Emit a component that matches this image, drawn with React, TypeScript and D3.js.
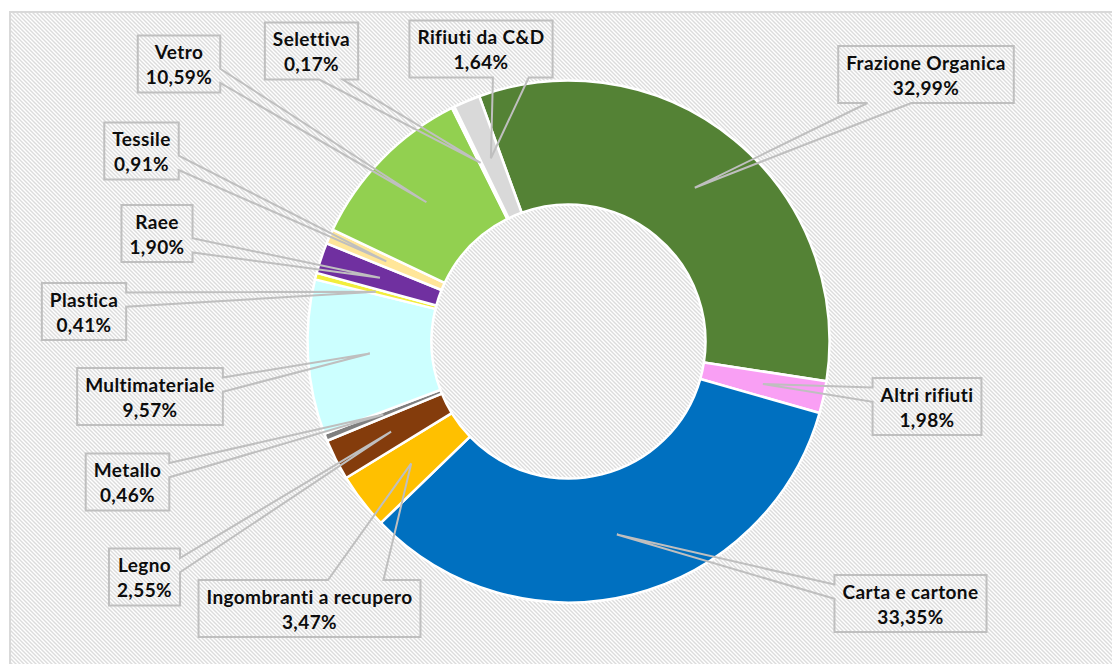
import React, { useEffect, useRef } from 'react';
import * as d3 from 'd3';

const W = 1112;
const H = 664;

// slices, clockwise from the first one
const categories = [
  'Frazione Organica', 'Altri rifiuti', 'Carta e cartone', 'Ingombranti a recupero',
  'Legno', 'Metallo', 'Multimateriale', 'Plastica', 'Raee', 'Tessile', 'Vetro',
  'Selettiva', 'Rifiuti da C&D',
];
const shares = [32.99, 1.98, 33.35, 3.47, 2.55, 0.46, 9.57, 0.41, 1.9, 0.91, 10.59, 0.17, 1.64];
const sliceColors = [
  '#548235', '#F99FF4', '#0070C0', '#FFC000', '#843C0C', '#7F7F7F', '#CCFFFF',
  '#F2EE3C', '#7030A0', '#FFE699', '#92D050', '#F2F2F2', '#D9D9D9',
];
// centre of each label box
const labelCenters: [number, number][] = [
  [926, 74.5], [927, 406.5], [910.5, 603.5], [309.5, 608.5], [144.5, 577], [127.5, 482],
  [150, 396.5], [84, 311.5], [157, 233.5], [141.5, 151], [179, 64], [311.5, 51], [481, 49],
];

const fmt = (v: number) => d3.format('.2f')(v).replace('.', ',') + '%';

// Excel style wedgeRectCallout outline
function calloutPath(l: number, t: number, w: number, h: number, ax: number, ay: number) {
  const r = l + w, b = t + h;
  const dxPos = ax - (l + w / 2);
  const dyPos = ay - (t + h / 2);
  const x1 = l + (w * (dxPos > 0 ? 7 : 2)) / 12;
  const x2 = l + (w * (dxPos > 0 ? 10 : 5)) / 12;
  const y1 = t + (h * (dyPos > 0 ? 7 : 2)) / 12;
  const y2 = t + (h * (dyPos > 0 ? 10 : 5)) / 12;
  const p = d3.path();
  if (Math.abs(dxPos * h) > Math.abs(dyPos * w)) {
    if (dxPos < 0) {
      p.moveTo(l, t); p.lineTo(r, t); p.lineTo(r, b); p.lineTo(l, b);
      p.lineTo(l, y2); p.lineTo(ax, ay); p.lineTo(l, y1);
    } else {
      p.moveTo(l, t); p.lineTo(r, t); p.lineTo(r, y1); p.lineTo(ax, ay);
      p.lineTo(r, y2); p.lineTo(r, b); p.lineTo(l, b);
    }
  } else if (dyPos < 0) {
    p.moveTo(l, t); p.lineTo(x1, t); p.lineTo(ax, ay); p.lineTo(x2, t);
    p.lineTo(r, t); p.lineTo(r, b); p.lineTo(l, b);
  } else {
    p.moveTo(l, t); p.lineTo(r, t); p.lineTo(r, b); p.lineTo(x2, b);
    p.lineTo(ax, ay); p.lineTo(x1, b); p.lineTo(l, b);
  }
  p.closePath();
  return p.toString();
}

const App: React.FC = () => {
  const svgRef = useRef<SVGSVGElement>(null);

  useEffect(() => {
    if (!svgRef.current) return;
    const svg = d3.select(svgRef.current);
    svg.selectAll('*').remove();

    // hatched chart area
    const pat = svg.append('defs').append('pattern')
      .attr('id', 'hatch')
      .attr('width', 4)
      .attr('height', 4)
      .attr('patternUnits', 'userSpaceOnUse');
    pat.append('rect').attr('width', 4).attr('height', 4).attr('fill', '#fff');
    pat.append('path')
      .attr('d', 'M-1,-1 L5,5 M-1,3 L1,5 M3,-1 L5,1')
      .attr('stroke', '#dcdcdc')
      .attr('stroke-width', 1.4);

    svg.append('rect')
      .attr('x', 10)
      .attr('y', 12)
      .attr('width', W)
      .attr('height', H)
      .attr('fill', 'url(#hatch)')
      .attr('stroke', '#d9d9d9')
      .attr('stroke-width', 2);

    const cx = 568.5, cy = 341.5;
    const rOut = 261, rIn = 137;

    const pie = d3.pie<number>()
      .sort(null)
      .value(d => d)
      .startAngle((-20 * Math.PI) / 180)
      .endAngle((340 * Math.PI) / 180);
    const arcs = pie(shares);
    const arc = d3.arc<d3.PieArcDatum<number>>().innerRadius(rIn).outerRadius(rOut);

    const g = svg.append('g').attr('transform', `translate(${cx},${cy})`);
    g.selectAll('path')
      .data(arcs)
      .join('path')
      .attr('d', d => arc(d) as string)
      .attr('fill', (d, i) => sliceColors[i])
      .attr('stroke', '#fff')
      .attr('stroke-width', 2.5)
      .attr('stroke-linejoin', 'round');

    // labels with callouts
    const boxH = 57;
    arcs.forEach((d, i) => {
      const [lx, ly] = labelCenters[i];
      const [ax0, ay0] = arc.centroid(d);
      const ax = ax0 + cx, ay = ay0 + cy;
      const top = ly - boxH / 2;

      const lg = svg.append('g');
      const path = lg.append('path');
      const t1 = lg.append('text')
        .attr('x', lx)
        .attr('y', top + 23.5)
        .text(categories[i]);
      const t2 = lg.append('text')
        .attr('x', lx)
        .attr('y', top + 48.5)
        .text(fmt(shares[i]));
      lg.selectAll('text')
        .attr('text-anchor', 'middle')
        .attr('font-family', 'Lato, sans-serif')
        .attr('font-weight', 'bold')
        .attr('font-size', '19px')
        .attr('letter-spacing', '0.4px')
        .attr('fill', '#0d0d0d');

      const tw = Math.max(
        (t1.node() as SVGTextElement).getComputedTextLength(),
        (t2.node() as SVGTextElement).getComputedTextLength()
      );
      const boxW = tw + 16;
      path
        .attr('d', calloutPath(lx - boxW / 2, top, boxW, boxH, ax, ay))
        .attr('fill', 'none')
        .attr('stroke', '#bfbfbf')
        .attr('stroke-width', 2);
    });
  }, []);

  return (
    <svg
      ref={svgRef}
      width={W}
      height={H}
      style={{ position: 'absolute', left: 0, top: 0, background: '#fff' }}
    />
  );
};

export default App;
